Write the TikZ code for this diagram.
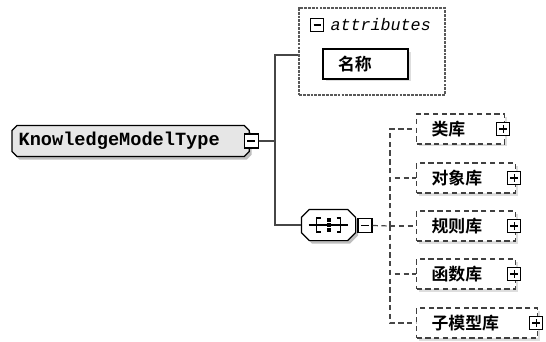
\documentclass[tikz,border=0pt]{standalone}
\usepackage{fontspec}
\newfontfamily\cjk{Noto Sans CJK SC}[BoldFont={Noto Sans CJK SC Bold}]
\newfontfamily\codefont{Liberation Mono}
\usetikzlibrary{shadows,positioning}
\definecolor{linegray}{RGB}{70,70,70}
\definecolor{rootfill}{RGB}{230,230,230}
\definecolor{shadowgray}{RGB}{190,190,190}
% octagonal outline round a named node
\newcommand\octpath[2]{([xshift=#2]#1.north west) -- ([xshift=-#2]#1.north east)
  -- ([yshift=-#2]#1.north east) -- ([yshift=#2]#1.south east)
  -- ([xshift=-#2]#1.south east) -- ([xshift=#2]#1.south west)
  -- ([yshift=#2]#1.south west) -- ([yshift=-#2]#1.north west) -- cycle}

\begin{document}
\begin{tikzpicture}[
  x=0.02cm, y=-0.02cm,
  line width=0.7pt,
  rootbox/.style={
    rectangle,
    minimum height=0.6cm,
    inner xsep=0.12cm,
    inner ysep=0pt,
    align=left,
    font=\codefont\bfseries\fontsize{10.6}{12}\selectfont
  },
  seqbox/.style={
    rectangle,
    minimum width=1.06cm,
    minimum height=0.6cm,
    inner sep=0pt
  },
  toggle/.style={
    rectangle,
    draw=black,
    fill=white,
    line width=0.6pt,
    minimum size=0.28cm,
    inner sep=0pt
  },
  minusbox/.style={
    toggle,
    path picture={
      \draw[line width=0.6pt] ([xshift=0.06cm]path picture bounding box.west)
        -- ([xshift=-0.06cm]path picture bounding box.east);
    }
  },
  plusbox/.style={
    toggle,
    minimum size=0.26cm,
    path picture={
      \draw[line width=0.6pt] ([xshift=0.05cm]path picture bounding box.west)
        -- ([xshift=-0.05cm]path picture bounding box.east);
      \draw[line width=0.6pt] ([yshift=-0.05cm]path picture bounding box.north)
        -- ([yshift=0.05cm]path picture bounding box.south);
    }
  },
  attrframe/.style={
    rectangle,
    draw=black!65,
    dash pattern=on 1.6pt off 0.6pt,
    minimum width=2.92cm,
    minimum height=1.74cm,
    inner sep=0pt
  },
  attrbox/.style={
    rectangle,
    draw=black,
    fill=white,
    minimum height=0.6cm,
    inner xsep=0.3cm,
    inner ysep=0pt,
    align=left,
    font=\cjk\bfseries\fontsize{9.6}{12}\selectfont,
    drop shadow={shadow xshift=0.05cm,shadow yshift=-0.05cm,fill=shadowgray}
  },
  childbox/.style={
    attrbox,
    draw=black!75,
    densely dashed,
    anchor=west,
    drop shadow={shadow xshift=0.04cm,shadow yshift=-0.05cm,fill=black!13}
  },
  octline/.style={draw=black, line width=0.7pt},
  link/.style={draw=linegray, line width=0.7pt},
  dlink/.style={link, densely dashed}
]
\useasboundingbox (0,0) rectangle (546,341);

% Complex type and its attributes
\node[rootbox, text width=4.48cm, anchor=west] (kmt) at (12,141) {};
\fill[shadowgray, transform canvas={shift={(0.05cm,-0.06cm)}}] \octpath{kmt}{0.1cm};
\fill[rootfill, octline] \octpath{kmt}{0.1cm};
\node[rootbox, text width=4.48cm, anchor=west] (kmt-label) at (12,141)
  {KnowledgeModelType};
\node[minusbox] (kmt-toggle) at ([xshift=0.04cm]kmt.east) {};

\node[attrframe] (attrs) at (372,51.5) {};
\node[minusbox, minimum size=0.26cm] (attrs-toggle) at (317,25) {};
\node[anchor=west, inner sep=0pt,
  font=\codefont\itshape\fontsize{9.5}{11}\selectfont] (attrs-label) at (330,25)
  {attributes};
\node[attrbox, text width=1.1cm] (attrname) at (365.5,64) {名称};

% Sequence compositor
\node[seqbox] (seq) at (328.5,225) {};
\fill[shadowgray, transform canvas={shift={(0.05cm,-0.06cm)}}] \octpath{seq}{0.16cm};
\fill[white, octline] \octpath{seq}{0.16cm};
\begin{scope}[shift={(seq.center)}, line width=0.6pt]
  \draw (-20,0) -- (19,0);
  \draw (-8,-7) -- (-12,-7) -- (-12,7) -- (-8,7);
  \draw (8,-7) -- (12,-7) -- (12,7) -- (8,7);
  \foreach \d in {-5,0,5}
    \fill (-2,\d-2) rectangle (2,\d+2);
\end{scope}
\node[minusbox] (seq-toggle) at (365,225.5) {};

% Child elements
\node[childbox, text width=1.16cm] (classlib) at (416,129) {类库};
\node[childbox, text width=1.38cm] (objlib) at (416,178) {对象库};
\node[childbox, text width=1.38cm] (rulelib) at (416,226) {规则库};
\node[childbox, text width=1.38cm] (funclib) at (416,274) {函数库};
\node[childbox, text width=1.82cm] (submodel) at (416,323) {子模型库};
\foreach \c in {classlib,objlib,rulelib,funclib,submodel}
  \node[plusbox] (\c-toggle) at ([xshift=-0.04cm]\c.east) {};

% Connectors
\coordinate (split) at (275,141);
\coordinate (hub) at (390,226);
\draw[link] (kmt-toggle.east) -- (split);
\draw[link] (split) |- ([yshift=-0.07cm]attrs.west);
\draw[link] (split) |- (seq.west);
\draw[dlink] (seq-toggle.east) -- (hub);
\foreach \c in {classlib,objlib,rulelib,funclib,submodel}
  \draw[dlink] (hub) |- (\c.west);

\end{tikzpicture}
\end{document}
